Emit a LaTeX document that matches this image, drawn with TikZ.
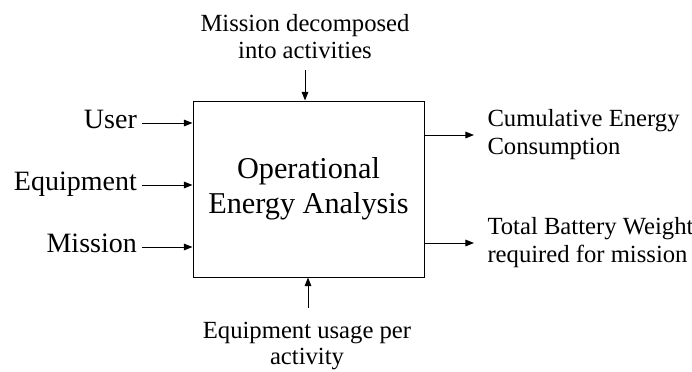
\documentclass[tikz,border=0pt]{standalone}
\usepackage{fontspec}
\setmainfont{Liberation Serif}
\usetikzlibrary{arrows.meta}

\tikzset{every picture/.style={line width=0.75pt}}
\tikzset{
	flow/.style={-{Triangle[length=6.5pt,width=5pt]}},
	inlabel/.style={anchor=east, inner xsep=3.5pt, inner ysep=0pt, text height=0.95em, text depth=0.15em, font=\fontsize{21}{25}\selectfont},
	outlabel/.style={anchor=west, align=left, inner xsep=9.75pt, inner ysep=0pt, font=\fontsize{18.5}{21}\selectfont},
	ctllabel/.style={align=center, inner xsep=0pt, font=\fontsize{18.5}{20}\selectfont}
}

\begin{document}
\begin{tikzpicture}[x=0.75pt,y=0.75pt,yscale=-1,xscale=1]
	\useasboundingbox (0,0) rectangle (692,371);

	%Shape: Rectangle [id:oea]
	\draw (308.5,189) node [draw, minimum width=173.25pt, minimum height=132pt, align=center, font=\fontsize{22.7}{26}\selectfont] (oea) {Operational\\Energy Analysis};

	% Text Node
	\draw (142,123) node [inlabel] (user) {User};
	% Text Node
	\draw (142,185) node [inlabel] (equip) {Equipment};
	% Text Node
	\draw (142,247) node [inlabel] (mission) {Mission};
	% Text Node
	\draw (474,135) node [outlabel] (cum) {Cumulative Energy\\Consumption};
	% Text Node
	\draw (474,243) node [outlabel] (batt) {Total Battery Weight\\required for mission};
	% Text Node
	\draw (305,70) node [ctllabel, anchor=south, inner ysep=8pt] (decomp) {Mission decomposed\\into activities};
	% Text Node
	\draw (307,308) node [ctllabel, anchor=north, inner ysep=10pt] (usage) {Equipment usage per\\activity};

	%Straight Lines
	\draw [flow] (user.east) -- (user.east -| oea.west);
	\draw [flow] (equip.east) -- (equip.east -| oea.west);
	\draw [flow] (mission.east) -- (mission.east -| oea.west);
	%Straight Lines
	\draw [flow] (cum.west -| oea.east) -- (cum.west);
	\draw [flow] (batt.west -| oea.east) -- (batt.west);
	%Straight Lines
	\draw [flow] (decomp.south) -- (decomp.south |- oea.north);
	\draw [flow] (oea.south -| usage.north) ++(1,0) coordinate (utip) (usage.north -| utip) -- (utip);

\end{tikzpicture}
\end{document}
